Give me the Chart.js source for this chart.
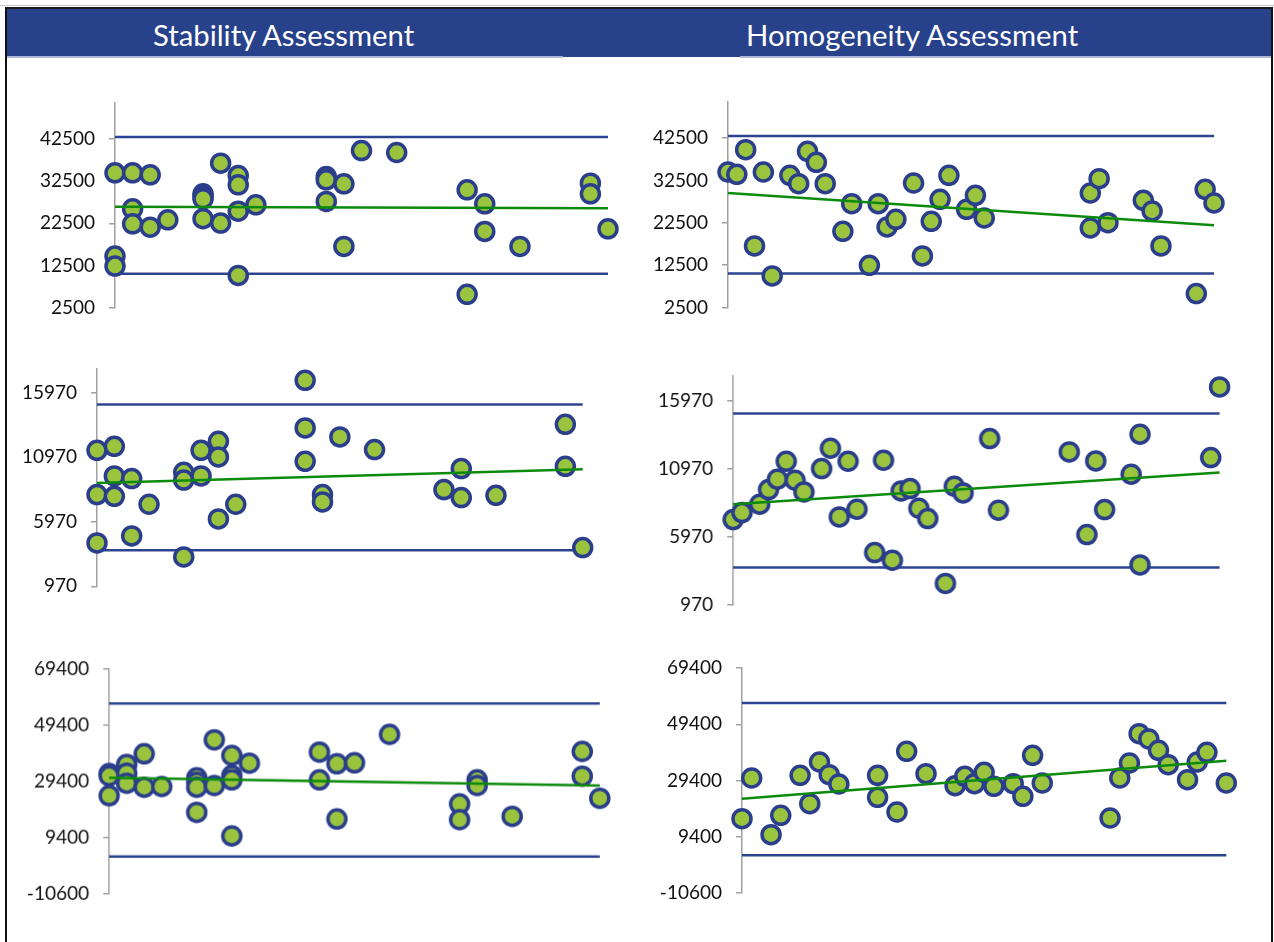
<!DOCTYPE html>
<html>
<head>
<meta charset="utf-8">
<script src="https://cdn.jsdelivr.net/npm/chart.js@4.4.0/dist/chart.umd.min.js"></script>
<style>
html,body{margin:0;padding:0;background:#fff;width:1274px;height:942px;overflow:hidden;font-family:Lato,sans-serif;}
#topgray{position:absolute;left:0;top:5px;width:1274px;height:1px;background:#c8c8c8;}
#frame{position:absolute;left:5px;top:7px;width:1268px;height:935px;border-left:2px solid #111;border-right:2px solid #111;border-top:2px solid #1a1a1a;box-sizing:border-box;}
#header{position:absolute;left:7px;top:9px;width:1264px;height:48px;background:#27418A;}
.hline{position:absolute;top:56px;height:2px;background:#AEB7D8;}
.title{position:absolute;top:11px;height:48px;line-height:48px;color:#fff;white-space:nowrap;font-family:Lato,sans-serif;}
.panel{position:absolute;}
</style>
</head>
<body>
<div id="topgray"></div>
<div id="frame"></div>
<div id="header"></div>
<div class="hline" style="left:7px;width:556px;"></div>
<div class="hline" style="left:740px;width:531px;"></div>
<span class="title" id="t1">Stability Assessment</span>
<span class="title" id="t2">Homogeneity Assessment</span>
<script>
// ---------- Data ----------
const titles = ["Stability Assessment", "Homogeneity Assessment"];

// Stability (x = time point)
const stabX1 = [0,0,0, 1,1,1, 2,2, 3, 5,5,5,5, 6,6, 7,7,7,7, 8, 12,12,12, 13,13, 14, 16, 20,20, 21,21, 23, 27,27, 28];
const stabY1 = [34450,14730,12360, 34450,25930,22380, 33980,21590, 23330, 29500,28900,28300,23600, 36740,22540, 33820,31610,25380,10150, 26880, 33580,32800,27670, 31850,17020, 39740, 39270, 30430,5660, 27120,20570, 17020, 32000,29480, 21200];
const stabLimits1 = [42970, 10560];
const stabTrend1 = [26400, 26090];

const stabX2 = [0,0,0, 1,1,1, 2,2, 3, 5,5,5, 6,6, 7,7,7, 8, 12,12,12, 13,13, 14, 16, 20, 21,21, 23, 27,27, 28];
const stabY2 = [11504,8071,4328, 11814,9517,7942, 9310,4870, 7323, 9800,9200,3244, 11504,9517, 12201,10988,6187, 7323, 16925,13234,10652, 8071,7503, 12537, 11556, 8458, 10084,7839, 8019, 13518,10265, 3966];
const stabLimits2 = [15041, 3760];
const stabTrend2 = [8974, 10033];

const stabX3 = [0,0,0, 1,1,1, 2,2, 3, 5,5,5,5, 6,6, 7,7,7,7, 8, 12,12, 13,13, 14, 16, 20,20, 21,21, 23, 27,27, 28];
const stabY3 = [32200,31400,24330, 35420,32310,28730, 39250,27310, 27560, 30670,29090,27310,18360, 44200,27910, 38640,31490,29950,9950, 35890, 39830,29940, 35660,15990, 36020, 46150, 21350,15750, 29940,27910, 16940, 40070,31250, 23380];
const stabLimits3 = [57130, 2630];
const stabTrend3 = [30670, 27909];

// Homogeneity (x = sample number)
const homX1 = [0,1,2,3,4,5,7,8,9,10,11,13,14,16,17,18,19,21,22,23,24,25,27,28,29,41,41,42,43,47,48,49,53,54,55];
const homY1 = [34484,33934,39750,17039,34484,9965,33698,31734,39357,36763,31734,20496,27019,12480,27019,21517,23325,31891,14681,22853,28040,33698,25682,28983,23639,29533,21281,32913,22539,27805,25290,17039,5800,30398,27176];
const homLimits1 = [42970, 10520];
const homTrend1 = [29530, 21910];

const homX2 = [0,1,3,4,5,6,7,8,10,11,12,13,14,16,17,18,19,20,21,22,24,25,26,29,30,38,40,41,42,45,46,46,54,55];
const homY2 = [7257,7771,8383,9460,10219,11540,10145,9289,11002,12495,7453,11540,8016,4834,11614,4272,9362,9533,8089,7331,2570,9705,9215,13204,7943,12225,6156,11565,7992,10586,13523,3929,11809,16998];
const homLimits2 = [15040, 3733];
const homTrend2 = [8383, 10708];

const homX3 = [0,1,3,4,6,7,8,9,10,14,14,16,17,19,22,23,24,25,26,28,29,30,31,38,39,40,41,42,43,44,46,47,48,50];
const homY3 = [15829,30289,10141,17014,31237,21163,35978,31474,28156,31237,23415,18200,39770,31830,27563,30882,28274,32304,27326,28274,23770,38348,28511,16067,30289,35622,46052,44156,40126,35030,29696,35978,39415,28511];
const homLimits3 = [56956, 2793];
const homTrend3 = [22941, 36452];

// Axis ticks / ranges
const ticksRow1 = [2500, 12500, 22500, 32500, 42500];
const rangeRow1 = [2500, 51000];
const ticksRow2 = [970, 5970, 10970, 15970];
const rangeRow2 = [970, 17800];
const ticksRow3 = [-10600, 9400, 29400, 49400, 69400];
const rangeRow3 = [-10600, 69400];
const xMaxStab = 28;
const xMaxHom = [55, 55, 50];

// ---------- Layout / style ----------
const PAD = 32, PADR = 20, AXW = 100;
const GREEN = '#0B8A0B', NAVY = '#2C4490', FILL = '#9AC43E', PTBORDER = '#2A3E8C';

function fitTitle(el, text, target, center) {
  const ctx = document.createElement('canvas').getContext('2d');
  ctx.font = '100px Lato';
  const w = ctx.measureText(text).width;
  const size = 100 * target / w;
  el.style.fontSize = size + 'px';
  el.style.left = (center - target / 2) + 'px';
}
fitTitle(document.getElementById('t1'), titles[0], 263, 284.5);
fitTitle(document.getElementById('t2'), titles[1], 334, 913);

function panel(g, xs, ys, limits, trend, xMax, range, ticks) {
  const div = document.createElement('div');
  div.className = 'panel';
  div.style.left = (g.L - AXW) + 'px';
  div.style.top = (g.T - PAD) + 'px';
  div.style.width = (g.R - g.L + AXW + PADR) + 'px';
  div.style.height = (g.B - g.T + 2 * PAD) + 'px';
  const c = document.createElement('canvas');
  c.style.display = 'block';
  div.appendChild(c);
  document.body.appendChild(div);
  const pts = xs.map((x, i) => ({x: x, y: ys[i]}));
  const hline = (v) => ({
    type: 'line', data: [{x: 0, y: v}, {x: xMax, y: v}],
    borderColor: NAVY, borderWidth: 2.5, pointRadius: 0, order: 2, clip: false, fill: false
  });
  new Chart(c, {
    type: 'scatter',
    data: {
      datasets: [
        {type: 'line', data: [{x: 0, y: trend[0]}, {x: xMax, y: trend[1]}],
         borderColor: GREEN, borderWidth: 2.5, pointRadius: 0, order: 0, clip: false, fill: false},
        {data: pts, pointRadius: 9, pointBorderWidth: 3.5,
         pointBackgroundColor: FILL, pointBorderColor: PTBORDER,
         backgroundColor: FILL, borderColor: PTBORDER, order: 1, clip: false},
        hline(limits[0]),
        hline(limits[1])
      ]
    },
    options: {
      responsive: true, maintainAspectRatio: false, animation: false, events: [],
      layout: {autoPadding: false, padding: {left: 0, right: PADR, top: PAD, bottom: PAD}},
      plugins: {legend: {display: false}, tooltip: {enabled: false}},
      scales: {
        x: {type: 'linear', min: 0, max: xMax, display: false},
        y: {
          type: 'linear', min: range[0], max: range[1],
          afterFit: (s) => { s.width = AXW; },
          afterBuildTicks: (s) => { s.ticks = ticks.map(v => ({value: v})); },
          ticks: {callback: (v) => String(v), padding: 14, color: '#111',
                  font: {family: 'Lato', size: 19}},
          grid: {drawOnChartArea: false, drawTicks: true, tickLength: 6, color: '#A0A0A0', lineWidth: 1.5},
          border: {display: true, color: '#A0A0A0', width: 1.5}
        }
      }
    }
  });
}

const G = {
  s1: {L: 115, R: 608, T: 102.6, B: 307.3},
  h1: {L: 728, R: 1214, T: 101.7, B: 307.3},
  s2: {L: 96.7, R: 582.4, T: 368.7, B: 586},
  h2: {L: 733.4, R: 1219, T: 375.8, B: 605},
  s3: {L: 109, R: 598.8, T: 669, B: 892.7},
  h3: {L: 742, R: 1226.3, T: 668.3, B: 893.3}
};

panel(G.s1, stabX1, stabY1, stabLimits1, stabTrend1, xMaxStab, rangeRow1, ticksRow1);
panel(G.h1, homX1, homY1, homLimits1, homTrend1, xMaxHom[0], rangeRow1, ticksRow1);
panel(G.s2, stabX2, stabY2, stabLimits2, stabTrend2, xMaxStab, rangeRow2, ticksRow2);
panel(G.h2, homX2, homY2, homLimits2, homTrend2, xMaxHom[1], rangeRow2, ticksRow2);
panel(G.s3, stabX3, stabY3, stabLimits3, stabTrend3, xMaxStab, rangeRow3, ticksRow3);
panel(G.h3, homX3, homY3, homLimits3, homTrend3, xMaxHom[2], rangeRow3, ticksRow3);
</script>
</body>
</html>
